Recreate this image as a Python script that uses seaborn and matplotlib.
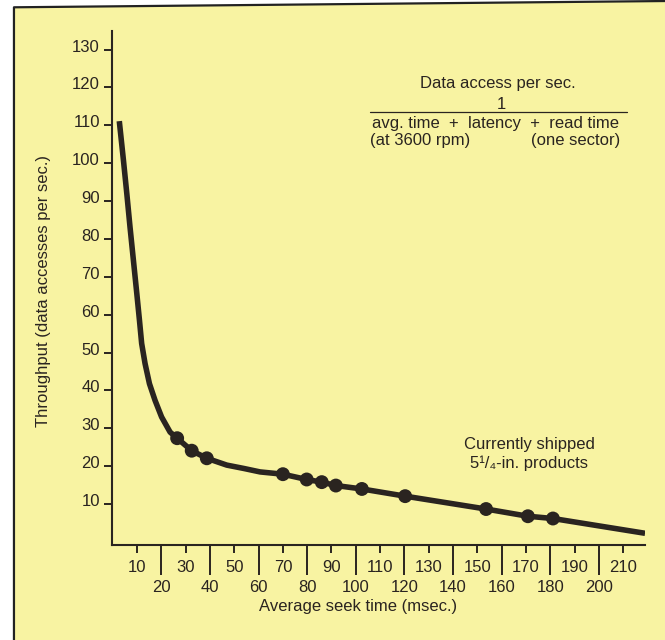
import matplotlib
matplotlib.use('Agg')
import matplotlib.pyplot as plt
import matplotlib.transforms as mtransforms
from matplotlib.patches import Polygon
import seaborn as sns

# throughput curve (seek time in msec, data accesses per sec)
curve_x = [2.7, 4.4, 5.8, 7.1, 8.5, 9.9, 11.0, 11.9, 13.3, 15.1, 17.4, 20.1, 23.6,
           26.5, 32.5, 38.7, 46.9, 54.0, 60.6, 70.0, 79.8, 86.0, 91.8, 102.5,
           120.3, 153.6, 170.8, 181.1, 219.0]
curve_y = [111.1, 100.8, 91.9, 83.2, 74.4, 65.6, 58.5, 52.4, 47.1, 41.8, 37.4, 33.0, 29.0,
           27.4, 24.1, 22.1, 20.3, 19.4, 18.5, 17.9, 16.5, 15.8, 14.9, 14.0,
           12.1, 8.7, 6.8, 6.2, 2.3]

# currently shipped 5 1/4-in. drives (dots on the curve)
drive_seek = [26.5, 32.5, 38.7, 70.0, 79.8, 86.0, 91.8, 102.5, 120.3, 153.6, 170.8, 181.1]
drive_tput = [27.4, 24.1, 22.1, 17.9, 16.5, 15.8, 14.9, 14.0, 12.1, 8.7, 6.8, 6.2]

y_ticks = list(range(10, 140, 10))
x_ticks_upper = list(range(10, 220, 20))   # short ticks, first row of labels
x_ticks_lower = list(range(20, 220, 20))   # long ticks, second row of labels

bg = '#f8f3a2'
ink = '#2a2420'
fs = 12

sns.set_style('ticks')
plt.rcParams['font.family'] = ['Liberation Sans', 'DejaVu Sans']

fig = plt.figure(figsize=(6.65, 6.4), dpi=100)
fig.patch.set_facecolor('white')

# yellow page with the black frame on the left and top
page = Polygon([(0.021, 0), (0.021, 0.9886), (1.0, 0.9984), (1.0, 0)],
               closed=True, transform=fig.transFigure, facecolor=bg,
               edgecolor='none', zorder=-10)
fig.add_artist(page)
fig.add_artist(plt.Line2D([0.021, 0.021, 1.0], [0.0, 0.9886, 0.9984],
                          transform=fig.transFigure, color='#222222', lw=1.6, zorder=-9))

ax = fig.add_axes([0.1677, 0.1484, 0.8023, 0.8038])
ax.set_facecolor('none')

sns.lineplot(x=curve_x, y=curve_y, ax=ax, color=ink, linewidth=4.0,
             estimator=None, sort=False, solid_capstyle='butt', solid_joinstyle='round')
sns.scatterplot(x=drive_seek, y=drive_tput, ax=ax, color=ink, s=100,
                edgecolor='none', zorder=3)

ax.set_xlim(-0.5, 219)
ax.set_ylim(-0.8, 135)

sns.despine(ax=ax)
for side in ['left', 'bottom']:
    ax.spines[side].set_linewidth(1.5)
    ax.spines[side].set_color(ink)

ax.set_yticks(y_ticks)
ax.set_yticklabels([str(v) for v in y_ticks])
ax.tick_params(axis='y', direction='out', length=5.8, width=1.4, pad=2.5,
               labelsize=fs, colors=ink)
shift_up = mtransforms.ScaledTranslation(0, 4 / 100, fig.dpi_scale_trans)
for lbl in ax.get_yticklabels():
    lbl.set_transform(lbl.get_transform() + shift_up)

ax.set_xticks(x_ticks_lower)
ax.set_xticklabels([str(v) for v in x_ticks_lower])
ax.set_xticks(x_ticks_upper, minor=True)
ax.set_xticklabels([str(v) for v in x_ticks_upper], minor=True)
ax.tick_params(axis='x', which='major', direction='out', length=21.6, width=1.4,
               pad=3.3, labelsize=fs, colors=ink)
ax.tick_params(axis='x', which='minor', direction='out', length=5.8, width=1.4,
               pad=4.8, labelsize=fs, colors=ink)

ax.set_xlabel('Average seek time (msec.)', fontsize=fs, color=ink, va='center')
ax.xaxis.set_label_coords(0.462, -0.1186)
ax.set_ylabel('Throughput (data accesses per sec.)', fontsize=fs, color=ink, va='center')
ax.yaxis.set_label_coords(-0.127, 0.494)

# formula block
ax.text(0.7235, 0.8976, 'Data access per sec.', transform=ax.transAxes,
        ha='center', va='center', fontsize=fs, color=ink)
ax.text(0.7314, 0.8567, '1', transform=ax.transAxes,
        ha='center', va='center', fontsize=fs, color=ink)
ax.plot([0.4845, 0.9657], [0.8412, 0.8412], transform=ax.transAxes,
        color=ink, lw=0.9)
ax.text(0.7188, 0.8198, 'avg. time  +  latency  +  read time', transform=ax.transAxes,
        ha='center', va='center', fontsize=fs, color=ink)
ax.text(0.4845, 0.7854, '(at 3600 rpm)', transform=ax.transAxes,
        ha='left', va='center', fontsize=fs, color=ink)
ax.text(0.9531, 0.7854, '(one sector)', transform=ax.transAxes,
        ha='right', va='center', fontsize=fs, color=ink)

ax.text(0.7826, 0.1963, 'Currently shipped', transform=ax.transAxes,
        ha='center', va='center', fontsize=fs, color=ink)
ax.text(0.7826, 0.1588, '5¹/₄-in. products', transform=ax.transAxes,
        ha='center', va='center', fontsize=fs, color=ink)

fig.savefig('out.png', dpi=100)
